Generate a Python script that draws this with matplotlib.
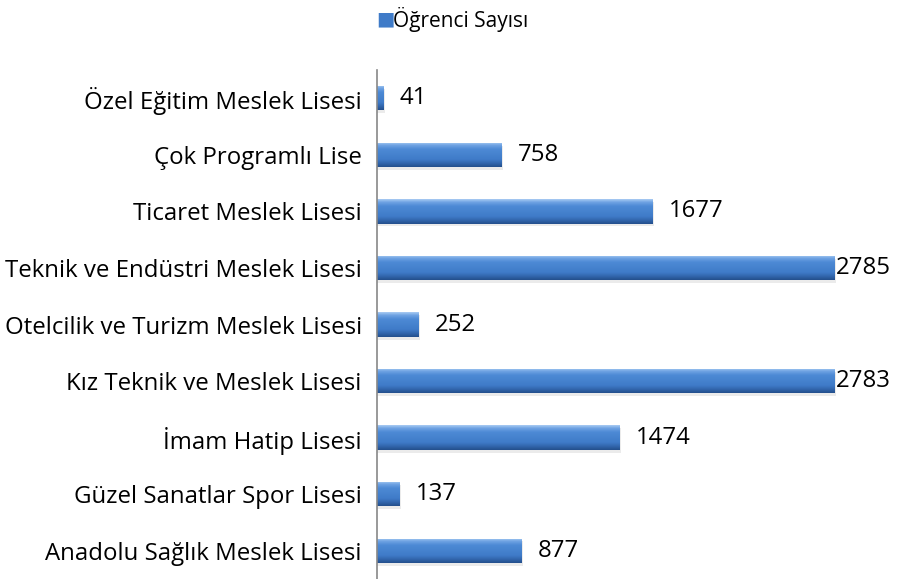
import numpy as np
import matplotlib.pyplot as plt
from matplotlib.colors import LinearSegmentedColormap
from matplotlib.patches import Rectangle

plt.rcParams['font.family'] = ['Open Sans', 'DejaVu Sans']

categories = ['Anadolu Sağlık Meslek Lisesi', 'Güzel Sanatlar Spor Lisesi', 'İmam Hatip Lisesi',
              'Kız Teknik ve Meslek Lisesi', 'Otelcilik ve Turizm Meslek Lisesi',
              'Teknik ve Endüstri Meslek Lisesi', 'Ticaret Meslek Lisesi', 'Çok Programlı Lise',
              'Özel Eğitim Meslek Lisesi']
values = [877, 137, 1474, 2783, 252, 2785, 1677, 758, 41]
series_name = 'Öğrenci Sayısı'

fig = plt.figure(figsize=(9, 5.79), dpi=100)
ax = fig.add_axes([0.419, 0.0, 0.548, 0.879])

# bevelled blue bar gradient (top -> bottom)
cmap = LinearSegmentedColormap.from_list('bevel', [
    (0.0, '#a9cbf2'), (0.12, '#6fa3e3'), (0.28, '#4d8ad5'),
    (0.7, '#3f7bc8'), (0.85, '#3266ad'), (1.0, '#244f8c')])
grad = np.linspace(0, 1, 100).reshape(-1, 1)

bars = ax.barh(range(len(values)), values, height=0.43, color='#3f7bc8',
               edgecolor='none')
for b in bars:
    x0, y0 = b.get_x(), b.get_y()
    w, h = b.get_width(), b.get_height()
    # soft shadow
    ax.add_patch(Rectangle((x0, y0 - 0.05), w + 8, h, color='#000000', alpha=0.08,
                           lw=0, zorder=1))
    im = ax.imshow(grad, cmap=cmap, aspect='auto', extent=(x0, x0 + w, y0, y0 + h),
                   zorder=2, interpolation='bilinear')
    im.set_clip_path(b)
    b.set_zorder(2)

for i, v in enumerate(values):
    off = 1 if v > 2500 else 11.5
    ax.annotate(str(v), (v, i), xytext=(off, 0), textcoords='offset points',
                va='center', ha='left', fontsize=17.3, color='black')

ax.set_xlim(0, 3000)
ax.set_ylim(-0.5, len(values) - 0.5)
ax.set_yticks(range(len(values)))
ax.set_yticklabels(categories, fontsize=17.3)
ax.tick_params(axis='y', length=0, pad=11)
ax.set_xticks([])
for s in ['top', 'right', 'bottom']:
    ax.spines[s].set_visible(False)
ax.spines['left'].set_color('#888888')
ax.spines['left'].set_linewidth(1.2)

# legend
fig.text(0.428, 0.966, '\u25a0', color='#3f7bc8', fontsize=14, ha='center', va='center')
fig.text(0.437, 0.966, series_name, fontsize=15, ha='left', va='center')

fig.savefig('out.png', dpi=100)
